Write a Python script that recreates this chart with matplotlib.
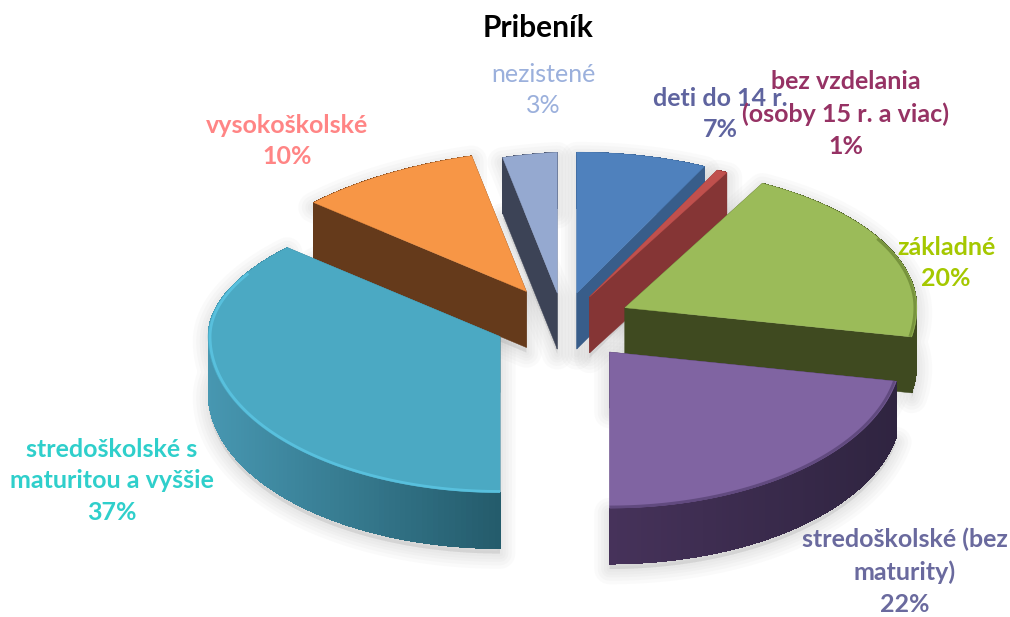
import numpy as np
import matplotlib
matplotlib.use('Agg')
import matplotlib.pyplot as plt
from matplotlib.colors import to_rgb

title = 'Pribeník'
categories = ['deti do 14 r.', 'bez vzdelania\n(osoby 15 r. a viac)', 'základné',
              'stredoškolské (bez\nmaturity)', 'stredoškolské s\nmaturitou a vyššie',
              'vysokoškolské', 'nezistené']
values = [7.2, 0.6, 20.2, 22, 37, 10, 3]

explode = [0.21, 0.20, 0.235, 0.25, 0.235, 0.26, 0.207]
top_colors = ['#4F81BD', '#C0504D', '#9BBB59', '#8064A2', '#4BA9C3', '#F79646', '#95A9D0']
wall_colors = ['#385D8A', '#853535', '#3F4A20', '#3E2D50', '#2F6F84', '#653A1B', '#3C4356']
rim_left = ['#385D8A', '#853535', '#4A5726', '#46325A', '#4797B1', '#653A1B', '#3C4356']
rim_right = ['#385D8A', '#853535', '#3F4A20', '#2F2440', '#245B6B', '#653A1B', '#3C4356']
bevel_colors = ['#4F81BD', '#C0504D', '#6E8A36', '#5A4477', '#5CC6E4', '#F79646', '#95A9D0']
label_colors = ['#5F649F', '#963264', '#A5C800', '#6A6A9E', '#2FCFCB', '#FF8585', '#9BB0DC']
label_pos = [(720, 114), (846, 114), (946, 263), (905, 572), (112, 481), (287, 141), (543, 90)]
label_weight = ['bold', 'bold', 'bold', 'bold', 'bold', 'bold', 'normal']
draw_order = [0, 1, 6, 5, 2, 4, 3]

cx, cy = 563, 322
rx, ry_back, ry_front = 292, 141, 156
depth = 56


def project(angle, radius=1.0):
    # angle clockwise from 12 o'clock, radians
    c = np.cos(angle)
    s = np.sin(angle)
    ry = np.where(c > 0, ry_back + 15 * np.minimum(s, 0), ry_front)
    return rx * radius * s, -ry * radius * c


edges = np.cumsum([0] + values) / sum(values) * 2 * np.pi
slices = []
for i in range(len(values)):
    mid = (edges[i] + edges[i + 1]) / 2
    ox, oy = project(mid, explode[i])
    ang = np.linspace(edges[i], edges[i + 1], 120)
    px, py = project(ang)
    slices.append((cx + ox, cy + oy, ang, cx + ox + px, cy + oy + py))

plt.rcParams['font.family'] = ['Lato', 'DejaVu Sans']
fig = plt.figure(figsize=(10.1, 6.17), dpi=100)
ax = fig.add_axes([0, 0, 1, 1])
ax.set_xlim(0, 1010)
ax.set_ylim(617, 0)
ax.axis('off')

# soft shadow first so it only lands on the background
for x0, y0, ang, xs, ys in slices:
    sx = np.r_[x0, xs, xs[::-1], x0]
    sy = np.r_[y0, ys, ys[::-1] + depth, y0 + depth]
    for lw in [22, 17, 12, 8, 4]:
        ax.fill(sx, sy + 5, facecolor='#808080', edgecolor='#808080', alpha=0.035,
                linewidth=lw, joinstyle='round', zorder=1)

z = 2
for i in draw_order:
    x0, y0, ang, xs, ys = slices[i]
    # cut faces
    for xe, ye in [(xs[0], ys[0]), (xs[-1], ys[-1])]:
        ax.fill([x0, xe, xe, x0], [y0, ye, ye + depth, y0 + depth],
                color=wall_colors[i], linewidth=0.3, zorder=z)
    # outer wall, shaded left to right
    c0, c1 = np.array(to_rgb(rim_left[i])), np.array(to_rgb(rim_right[i]))
    xmin, xmax = xs.min(), xs.max()
    for k in range(len(xs) - 1):
        t = ((xs[k] + xs[k + 1]) / 2 - xmin) / (xmax - xmin)
        ax.fill([xs[k], xs[k + 1], xs[k + 1], xs[k]],
                [ys[k], ys[k + 1], ys[k + 1] + depth, ys[k] + depth],
                color=c0 + (c1 - c0) * t, linewidth=0, antialiased=False, zorder=z)
    # top face
    ax.fill(np.r_[x0, xs], np.r_[y0, ys], color=top_colors[i], linewidth=0.3, zorder=z)
    # bevel along the rim
    mask = np.cos(ang) < 0.5
    if mask.sum() > 1 and bevel_colors[i] != top_colors[i]:
        bx, by = project(ang, 0.993)
        ax.plot(x0 + bx[mask], y0 + by[mask], color=bevel_colors[i], linewidth=2,
                alpha=0.8, solid_capstyle='butt', zorder=z)
    z += 1

for i, name in enumerate(categories):
    ax.text(label_pos[i][0], label_pos[i][1], f'{name}\n{values[i]:.0f}%', color=label_colors[i],
            fontsize=18, fontweight=label_weight[i], ha='center', va='center',
            linespacing=1.47, zorder=50)

ax.text(538, 28, title, fontsize=21.5, fontweight='bold', color='black',
        ha='center', va='center', zorder=50)

fig.savefig('out.png', dpi=100)
